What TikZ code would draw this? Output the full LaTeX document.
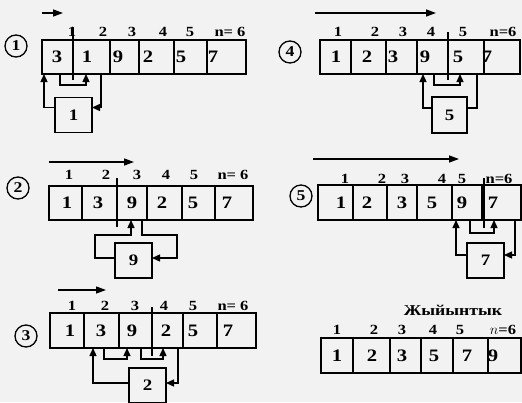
\documentclass[tikz,border=0pt]{standalone}
\usepackage{fontspec}
\setmainfont{Liberation Serif}[FakeStretch=1.18]
\usetikzlibrary{arrows.meta,calc}
\tikzset{
  cellbox/.style={draw, line width=1.5pt, inner sep=0pt, outer sep=0pt, anchor=north west},
  val/.style={font=\bfseries\fontsize{17.5}{17.5}\selectfont, inner sep=0pt},
  idx/.style={font=\bfseries\fontsize{14}{14}\selectfont, inner sep=0pt},
  tmpbox/.style={draw, line width=1.5pt, minimum width=37pt, minimum height=35pt, inner sep=0pt, outer sep=0pt, font=\bfseries\fontsize{16}{16}\selectfont},
  conn/.style={line width=1.3pt, -{Triangle[length=8pt,width=7pt]}},
  wire/.style={line width=1.3pt},
  marker/.style={line width=1.6pt},
  stepno/.style={draw, circle, line width=1.3pt, minimum size=22pt, inner sep=0pt, font=\bfseries\fontsize{15}{15}\selectfont},
  dirarrow/.style={line width=1.3pt, -{Triangle[length=10pt,width=7pt]}}
}
% #1 prefix, #2 top, #3 bottom, #4 list x1/x2/valx/val
\newcommand\arrayrow[4]{%
  \foreach \a/\b/\v/\t [count=\i] in {#4} {
    \node[cellbox, minimum width={(\b-\a)*1pt}, minimum height={(#3-#2)*1pt}] (#1c\i) at (\a,#2) {};
    \node[val] (#1v\i) at (\v,{(#2+#3)/2}) {\t};
  }}
% #1 prefix, #2 y, #3 list x/text
\newcommand\idxrow[3]{%
  \foreach \x/\t [count=\i] in {#3} {
    \node[idx] (#1l\i) at (\x,#2) {\t};
  }}
\begin{document}
\begin{tikzpicture}[x=1pt,y=-1pt]
\useasboundingbox (0,0) rectangle (522,402);
\fill[gray!10] (0,0) rectangle (522,402);

% ---------- Panel 1 ----------
\draw[dirarrow] (42,13) -- (63,13);
\node[stepno] (s1) at (16,46) {1};
\idxrow{p1}{32}{72/1,103/2,132/3,163/4,190/5,230/{n= 6}}
\arrayrow{p1}{40}{74}{42/73/57/3,73/110/87/1,110/139/118/9,139/174/148/2,174/207/181/5,207/246/213/7}
\draw[marker] ([yshift=13pt]p1c2.north west) -- ([yshift=-6pt]p1c2.south west);
\node[tmpbox] (b1) at (73.5,115) {1};
\draw[conn] ([yshift=-10pt]b1.north west) -| ([xshift=2pt]p1c1.south west);
\draw[conn] ([xshift=-13pt]p1c2.south west) -- ++(0,11) -| ([xshift=13pt]p1c2.south west);
\draw[conn] ([xshift=-9pt]p1c3.south west) |- ([yshift=-10pt]b1.north east);

% ---------- Panel 2 ----------
\draw[dirarrow] (49,162) -- (134,162);
\node[stepno] (s2) at (18,188) {2};
\idxrow{p2}{175}{69/1,106/2,137/3,166/4,194/5,233/{n= 6}}
\arrayrow{p2}{186}{220}{49/82/67/1,82/117/98/3,117/147/132/9,147/182/162/2,182/215/193/5,215/253/227/7}
\draw[marker] ([yshift=8pt]p2c3.north west) -- ([yshift=-7pt]p2c3.south west);
\node[tmpbox] (b2) at (133.5,260.5) {9};
\draw[conn] ([yshift=2.5pt]b2.west) -| (95,235) -| ([xshift=14pt]p2c3.south west);
\draw[conn] ([xshift=-5pt]p2c3.south east) |- (177,235) |- ([yshift=2.5pt]b2.east);

% ---------- Panel 3 ----------
\draw[dirarrow] (58,290) -- (106,290);
\node[stepno] (s3) at (26,336) {3};
\idxrow{p3}{306}{72/1,105/2,135/3,164/4,193/5,233/{n= 6}}
\arrayrow{p3}{313}{348}{50/84/70/1,84/119/101/3,119/152/132/9,152/183/166/2,183/217/193/5,217/256/228/7}
\draw[marker] ([yshift=6pt]p3c4.north west) -- ([yshift=-8pt]p3c4.south west);
\node[tmpbox] (b3) at (147.5,385.5) {2};
\draw[conn] ([yshift=2.5pt]b3.west) -| ([xshift=9pt]p3c2.south west);
\draw[conn] ([xshift=20pt]p3c2.south west) -- ++(0,11) -| ([xshift=8pt]p3c3.south west);
\draw[conn] ([xshift=-11pt]p3c3.south east) -- ++(0,11) -| ([xshift=11pt]p3c4.south west);
\draw[conn] ([xshift=-5pt]p3c4.south east) |- ([yshift=2.5pt]b3.east);

% ---------- Panel 4 ----------
\draw[dirarrow] (315,13) -- (436,13);
\node[stepno] (s4) at (290,52) {4};
\idxrow{p4}{32}{338/1,375/2,403/3,431/4,463/5,503/{n=6}}
\arrayrow{p4}{40}{74}{320/351/336/1,351/386/367/2,386/417/393/3,417/448/425/9,448/484/458/5,484/520/487/7}
\draw[marker] ([yshift=8pt]p4c5.north west) -- ([yshift=-6pt]p4c5.south west);
\node[tmpbox, minimum width=35pt, minimum height=36pt] (b4) at (449.5,115) {5};
\draw[conn] ([yshift=-11pt]b4.north west) -| ([xshift=6pt]p4c4.south west);
\draw[conn] ([xshift=-14pt]p4c4.south east) -- ++(0,11) -| ([xshift=12pt]p4c5.south west);
\draw[wire] ([xshift=-7pt]p4c5.south east) |- ([yshift=-11pt]b4.north east);

% ---------- Panel 5 ----------
\draw[dirarrow] (313,159) -- (459,159);
\node[stepno] (s5) at (301,196) {5};
\idxrow{p5}{179}{345/1,382/2,405/3,442/4,462/5,499/{n=6}}
\arrayrow{p5}{185}{220}{318/353/341/1,353/387/367/2,387/417/402/3,417/452/432/5,452/482/462/9,482/521/493/7}
\draw[marker] ([xshift=2pt,yshift=7pt]p5c6.north west) -- ([xshift=2pt,yshift=-8pt]p5c6.south west);
\node[tmpbox] (b5) at (485.5,260.5) {7};
\draw[conn] ([yshift=5.5pt]b5.west) -| ([xshift=4pt]p5c5.south west);
\draw[conn] ([xshift=-12pt]p5c5.south east) -- ++(0,13) -| ([xshift=12pt]p5c6.south west);
\draw[conn] ([xshift=-6pt]p5c6.south east) |- ([yshift=5.5pt]b5.east);

% ---------- Result ----------
\node[font=\bfseries\fontsize{15}{15}\selectfont, inner sep=0pt] (title) at (453,310) {Жыйынтык};
\idxrow{p6}{330}{337/1,374/2,402/3,433/4,460/5,503/{$n$=6}}
\arrayrow{p6}{338}{373}{321/353/337/1,353/390/372/2,390/421/402/3,421/453/434/5,453/488/467/7,488/521/493/9}
\end{tikzpicture}
\end{document}
